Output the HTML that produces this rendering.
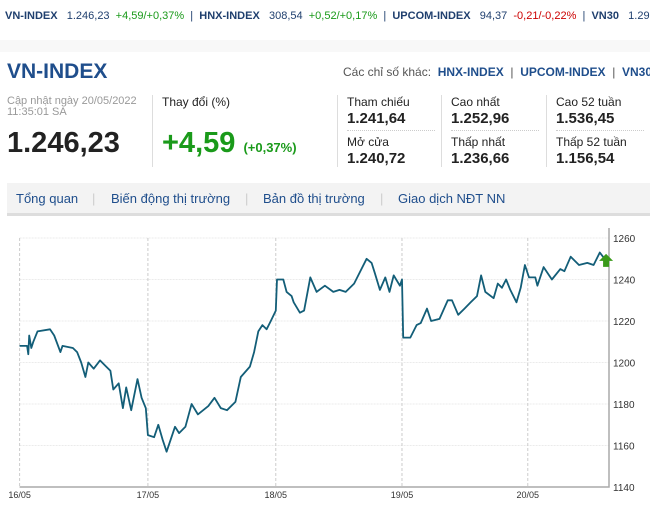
<!DOCTYPE html>
<html><head><meta charset="utf-8">
<style>
body{margin:0;width:650px;height:509px;overflow:hidden;background:#fff;font-family:"Liberation Sans","Noto Sans CJK SC",sans-serif;position:relative}
.a{position:absolute;white-space:nowrap}
.g{color:#1a9a1a}.r{color:#cc0000}
.tk{font-size:11px;color:#1f3f6e;font-weight:bold}
.lbl{font-size:12px;color:#222}
.val{font-size:15px;font-weight:bold;color:#222}
.sep{position:absolute;width:1px;background:#ddd}
.dot{position:absolute;height:0;border-top:1px dotted #ccc;width:88px}
.tab{font-size:13px;color:#1f4e8c}
</style></head><body>
<div class="a tk" style="left:5px;top:10px;font-weight:normal;color:#1f3f6e">
<b>VN-INDEX</b>&nbsp;&nbsp; 1.246,23 &nbsp;<span class="g">+4,59/+0,37%</span> &nbsp;| &nbsp;<b>HNX-INDEX</b>&nbsp;&nbsp; 308,54 &nbsp;<span class="g">+0,52/+0,17%</span> &nbsp;| &nbsp;<b>UPCOM-INDEX</b>&nbsp;&nbsp; 94,37 &nbsp;<span class="r">-0,21/-0,22%</span> &nbsp;| &nbsp;<b>VN30</b>&nbsp;&nbsp; 1.290</div>
<div style="position:absolute;left:0;top:40px;width:650px;height:12px;background:#f8f8f8"></div>
<div class="a" style="left:7px;top:60px;font-size:21px;font-weight:bold;color:#1f4e8c">VN-INDEX</div>
<div class="a" style="left:343px;top:65px;font-size:12px;color:#555">Các chỉ số khác: &nbsp;<b style="color:#1f4e8c">HNX-INDEX</b> &nbsp;| &nbsp;<b style="color:#1f4e8c">UPCOM-INDEX</b> &nbsp;| &nbsp;<b style="color:#1f4e8c">VN30</b></div>
<div class="a" style="left:7px;top:96px;font-size:11px;color:#999;line-height:11px">Cập nhật ngày 20/05/2022<br>11:35:01 SA</div>
<div class="a" style="left:7px;top:127px;font-size:29px;font-weight:bold;color:#222">1.246,23</div>
<div class="sep" style="left:152px;top:95px;height:72px"></div>
<div class="a" style="left:162px;top:95px;font-size:12px;color:#222">Thay đổi (%)</div>
<div class="a g" style="left:162px;top:127px;font-size:29px;font-weight:bold">+4,59 <span style="font-size:13px;font-weight:bold">(+0,37%)</span></div>
<div class="sep" style="left:337px;top:95px;height:72px"></div>
<div class="sep" style="left:441px;top:95px;height:72px"></div>
<div class="sep" style="left:546px;top:95px;height:72px"></div>
<div class="a lbl" style="left:347px;top:95px">Tham chiếu</div>
<div class="a val" style="left:347px;top:110px">1.241,64</div>
<div class="dot" style="left:347px;top:130px"></div>
<div class="a lbl" style="left:347px;top:135px">Mở cửa</div>
<div class="a val" style="left:347px;top:150px">1.240,72</div>
<div class="a lbl" style="left:451px;top:95px">Cao nhất</div>
<div class="a val g" style="left:451px;top:110px">1.252,96</div>
<div class="dot" style="left:451px;top:130px"></div>
<div class="a lbl" style="left:451px;top:135px">Thấp nhất</div>
<div class="a val r" style="left:451px;top:150px">1.236,66</div>
<div class="a lbl" style="left:556px;top:95px">Cao 52 tuần</div>
<div class="a val g" style="left:556px;top:110px">1.536,45</div>
<div class="dot" style="left:556px;top:130px"></div>
<div class="a lbl" style="left:556px;top:135px">Thấp 52 tuần</div>
<div class="a val r" style="left:556px;top:150px">1.156,54</div>
<div style="position:absolute;left:7px;top:183px;width:643px;height:30px;background:#f3f3f3;border-bottom:3px solid #ddd"></div>
<div class="a tab" style="left:16px;top:191px">Tổng quan</div>
<div class="a" style="left:92px;top:191px;color:#ccc;font-size:13px">|</div>
<div class="a tab" style="left:111px;top:191px">Biến động thị trường</div>
<div class="a" style="left:245px;top:191px;color:#ccc;font-size:13px">|</div>
<div class="a tab" style="left:263px;top:191px">Bản đồ thị trường</div>
<div class="a" style="left:380px;top:191px;color:#ccc;font-size:13px">|</div>
<div class="a tab" style="left:398px;top:191px">Giao dịch NĐT NN</div>
<svg id="chart" width="650" height="509" style="position:absolute;left:0;top:0" font-family="Liberation Sans, sans-serif"></svg>
<script>
const dayLabels=["16/05","17/05","18/05","19/05","20/05"];
const dayTimes=[0,308,615,918,1220];
const yTicks=[1140,1160,1180,1200,1220,1240,1260];
const times=[0,18,21,23,28,33,43,73,83,98,103,128,138,148,158,165,178,193,208,218,225,238,248,256,268,283,293,303,308,323,333,343,353,373,383,398,413,428,453,468,483,498,518,531,553,563,573,583,593,603,615,618,633,641,653,658,673,683,698,713,733,753,768,783,803,833,845,853,865,878,888,898,913,918,921,938,953,963,978,988,1008,1028,1038,1053,1068,1083,1098,1108,1118,1138,1148,1158,1168,1178,1193,1203,1213,1223,1238,1243,1258,1278,1298,1308,1323,1343,1363,1378,1393,1408];
const values=[1208,1208,1204,1213,1207,1210,1215,1216,1213,1205,1208,1207,1205,1200,1193,1200,1197,1201,1198,1196,1187,1190,1178,1188,1177,1192,1183,1178,1165,1164,1170,1163,1157,1169,1166,1169,1180,1175,1179,1183,1178,1177,1181,1193,1198,1205,1215,1218,1216,1220,1225,1240,1240,1234,1232,1229,1224,1225,1241,1234,1237,1234,1235,1234,1238,1250,1248,1243,1235,1241,1234,1242,1237,1240,1212,1212,1218,1219,1226,1220,1221,1230,1230,1223,1226,1229,1232,1242,1234,1231,1238,1236,1240,1235,1229,1236,1247,1241,1241,1237,1246,1240,1245,1244,1251,1247,1248,1247,1253,1249];
const svg=document.getElementById('chart');const NS='http://www.w3.org/2000/svg';
const X0=19.6,X1=609,Y0=487,Y1=238;
const xs=t=>X0+t*(X1-X0)/1415;
const ys=v=>Y0-(v-1140)*(Y0-Y1)/120;
function mk(tag,at){const e=document.createElementNS(NS,tag);for(const k in at)e.setAttribute(k,at[k]);svg.appendChild(e);return e;}
yTicks.forEach(v=>{
 if(v>1140){const l=mk('line',{x1:X0,x2:X1,y1:ys(v),y2:ys(v),stroke:'#ebebeb','stroke-dasharray':'2,1'});
 
 }
 const t=mk('text',{x:X1+4,y:ys(v)+4,'font-size':10,fill:'#333'});t.textContent=v;
 
 
});
dayTimes.forEach((d,i)=>{
 const l=mk('line',{x1:xs(d),x2:xs(d),y1:Y1,y2:Y0,stroke:'#ccc','stroke-dasharray':'3,2'});
 
 
 const t=mk('text',{x:xs(d),y:Y0+11,'font-size':9,fill:'#333','text-anchor':'middle'});t.textContent=dayLabels[i];
 
 
});
const ax=mk('path',{d:`M${X0} ${Y0}H${X1}V${Y1-10}`,stroke:'#aaa','stroke-width':1.5,fill:'none'});


let d='';times.forEach((t,i)=>{d+=(i?'L':'M')+xs(t).toFixed(1)+' '+ys(values[i]).toFixed(1);});
const p=mk('path',{d:d,stroke:'#135e78','stroke-width':1.8,fill:'none','stroke-linejoin':'round'});


const lx=xs(times[times.length-1]),ly=ys(values[values.length-1]);
const ar=mk('path',{d:`M${lx} ${ly-7}L${lx+7} ${ly}H${lx+3}V${ly+6}H${lx-3}V${ly}H${lx-7}Z`,fill:'#3a9a1a'});


</script>
</body></html>
